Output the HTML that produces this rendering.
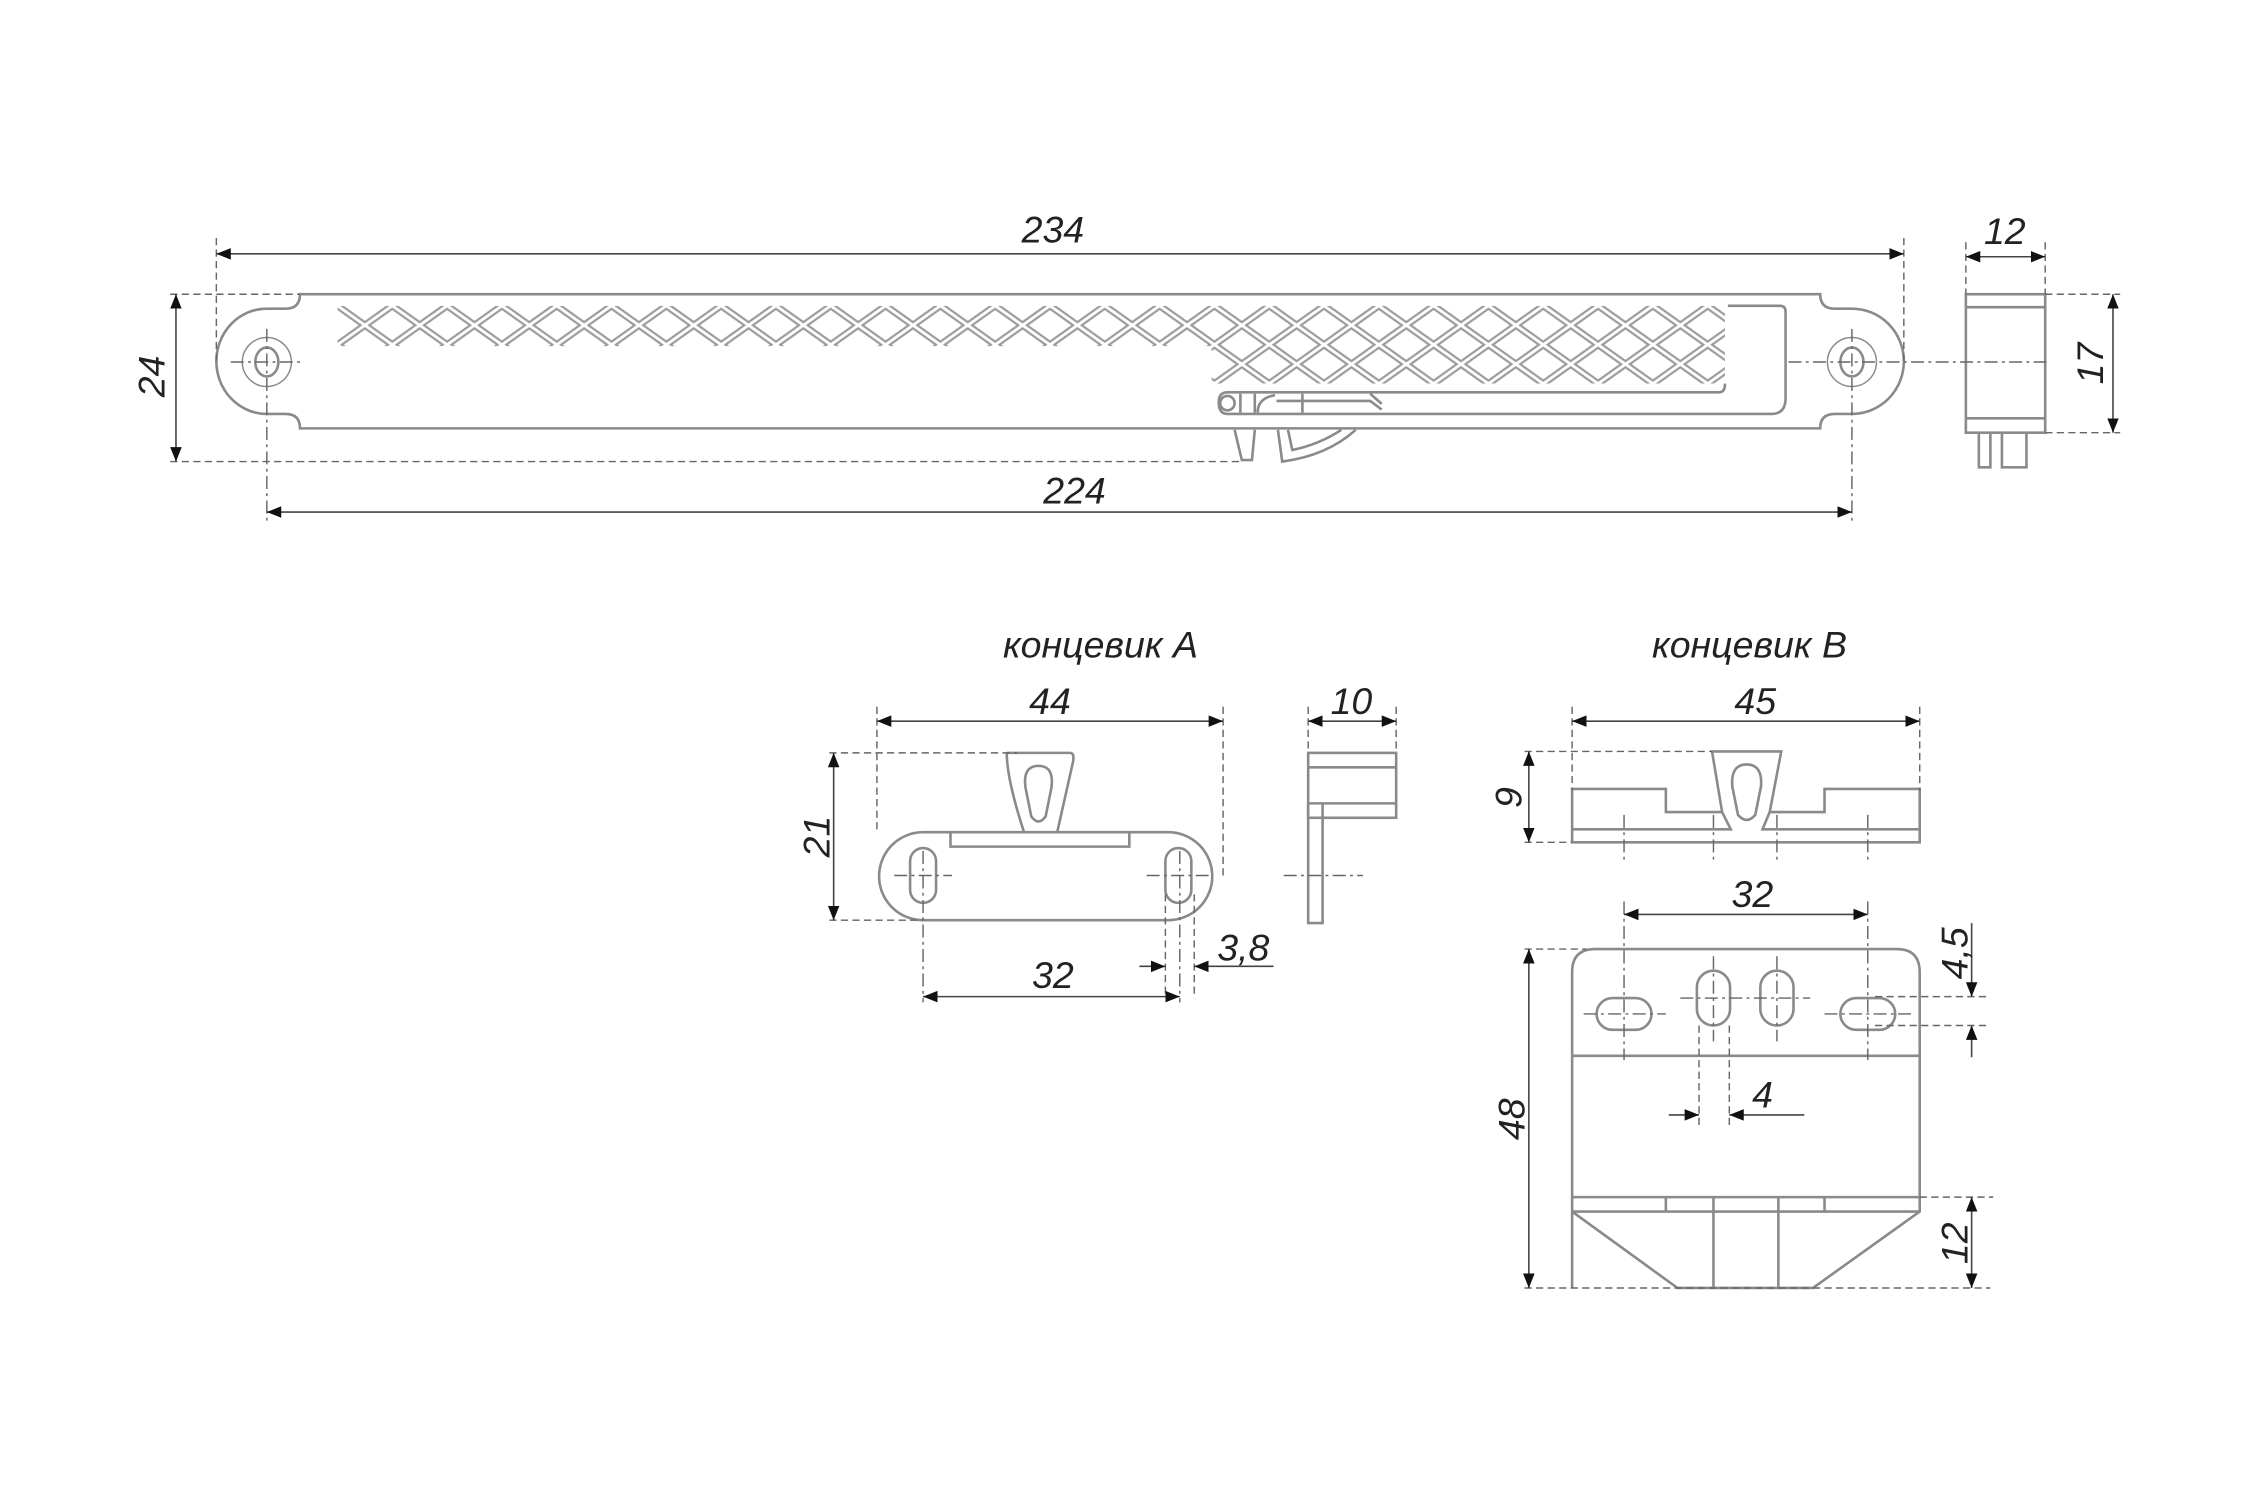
<!DOCTYPE html>
<html><head><meta charset="utf-8"><style>
html,body{margin:0;padding:0;background:#fff;}
svg{display:block;}
text{font-family:"Liberation Sans",sans-serif;font-style:italic;font-size:26px;fill:#222;}
</style></head><body>
<svg width="2250" height="1500" viewBox="0 0 1560 1040" xmlns="http://www.w3.org/2000/svg">
<defs>
<marker id="a" viewBox="0 0 10 8" refX="10" refY="4" markerWidth="10" markerHeight="8" markerUnits="userSpaceOnUse" orient="auto-start-reverse"><path d="M0,0 L10,4 L0,8 z" fill="#111"/></marker>
<pattern id="lat" x="234" y="212" width="38" height="27" patternUnits="userSpaceOnUse">
<path d="M0,0 L38,27 M38,0 L0,27" stroke="#9a9a9a" stroke-width="5"/>
<path d="M0,0 L38,27 M38,0 L0,27" stroke="#fff" stroke-width="2"/>
</pattern>
<clipPath id="lc"><path d="M234,212 H1196 V266 H840 V240 H234 Z"/></clipPath>
</defs>
<g fill="none" stroke="#8a8a8a" stroke-width="1.8">
<!-- main bar -->
<path d="M208,204 H1262 Q1262,214 1272,214 H1284 A36,36.5 0 0 1 1284,287 H1272 Q1262,287 1262,297 H208 Q208,287 198,287 H185 A35,36.5 0 0 1 185,214 H198 Q208,214 208,204 Z"/>
<circle cx="185" cy="251" r="17" stroke-width="1"/><ellipse cx="185" cy="251" rx="8" ry="10"/>
<circle cx="1284" cy="251" r="17" stroke-width="1"/><ellipse cx="1284" cy="251" rx="8" ry="10"/>
<rect x="234" y="212" width="962" height="54" fill="url(#lat)" stroke="none" clip-path="url(#lc)"/>
<path d="M1198,212 H1234 Q1238,212 1238,216 V276 Q1238,287 1228,287 H851 Q845,287 845,279 Q845,272 851,272 H1192 Q1196,272 1196,266"/>
<circle cx="851" cy="279.5" r="5"/>
<path d="M860,273 V286 M870,273 V286 M872,286 Q872,276 884,274 M903,273 V286 M885,278 H950 L958,284 M950,273 L958,280"/>
<path d="M856,298 L861,319 L868,319 L870,298"/>
<path d="M886,298 L889,320 Q920,316 940,298 M893,298 L896,312 Q915,308 930,298"/>
<!-- side view -->
<rect x="1363" y="204" width="55" height="96"/>
<path d="M1363,213 H1418 M1363,290 H1418"/>
<path d="M1372,300 V324 H1380 V300 M1388,300 V324 H1405 V300"/>
<!-- концевик A -->
<path d="M640,577 H810 A30.5,30.5 0 0 1 810,638 H640 A30.5,30.5 0 0 1 640,577 Z"/>
<path d="M659,577 V587 H783 V577"/>
<path d="M698,522 H742 Q745,522 744,528 L733,577 M698,522 Q698,540 710,577"/>
<path d="M720,531 Q731,531 729,546 L725,566 Q720,573 715,566 L711,546 Q709,531 720,531 Z"/>
<rect x="631" y="588" width="18" height="38" rx="9"/>
<rect x="808" y="588" width="18" height="38" rx="9"/>
<rect x="907" y="522" width="61" height="45"/>
<path d="M907,532 H968 M907,557 H968 M907,557 V640 H917 V557"/>
<!-- концевик B profile -->
<path d="M1090,584 V547 H1155 V563 H1194 L1187,521 H1235 L1227,563 H1265 V547 H1331 V584 Z"/>
<path d="M1090,575 H1200 L1194,563 M1331,575 H1222 L1227,563"/>
<path d="M1211,530 Q1222,530 1221,545 L1217,565 Q1211,572 1205,565 L1201,545 Q1200,530 1211,530 Z"/>
<!-- plate B -->
<path d="M1090,893 V674 Q1090,658 1106,658 H1315 Q1331,658 1331,674 V840 L1257,893 H1163 L1090,840"/>
<path d="M1090,732 H1331 M1090,830 H1331 M1090,840 H1331 M1155,830 V840 M1265,830 V840 M1188,830 V893 M1233,830 V893"/>
<rect x="1107" y="692" width="38" height="22" rx="11"/>
<rect x="1276" y="692" width="38" height="22" rx="11"/>
<rect x="1176.5" y="673" width="23" height="38" rx="11.5"/>
<rect x="1220.5" y="673" width="23" height="38" rx="11.5"/>
</g>
<!-- center / extension lines -->
<g fill="none" stroke="#666" stroke-width="1" stroke-dasharray="5,3">
<path d="M150,165 V250 M1320,165 V250 M118,204 H208 M118,320 H860 M1363,168 V204 M1418,168 V204 M1418,204 H1470 M1418,300 H1470"/>
<path d="M608,490 V577 M848,490 V610 M575,522 H705 M575,638 H640 M907,490 V522 M968,490 V522"/>
<path d="M808,620 V690 M828,620 V690 M1090,490 V548 M1331,490 V548 M1057,521 H1187 M1057,584 H1090"/>
<path d="M1057,658 H1100 M1057,893 H1380 M1331,830 H1382 M1300,691 H1378 M1300,711 H1378 M1178,711 V781 M1199,711 V781"/>
</g>
<g fill="none" stroke="#666" stroke-width="1" stroke-dasharray="9,3,2,3">
<path d="M185,228 V362 M160,251 H210 M1284,228 V362 M1240,251 H1420"/>
<path d="M640,590 V695 M818,590 V695 M620,607 H660 M795,607 H840 M890,607 H945"/>
<path d="M1126,565 V596 M1188,565 V596 M1232,565 V596 M1295,565 V596"/>
<path d="M1126,625 V735 M1295,625 V735 M1098,703 H1155 M1265,703 H1325 M1188,663 V722 M1232,663 V722 M1165,692 H1255"/>
</g>
<!-- dimension lines -->
<g fill="none" stroke="#444" stroke-width="1.1">
<path d="M150,176 H1320" marker-start="url(#a)" marker-end="url(#a)"/>
<path d="M122,204 V320" marker-start="url(#a)" marker-end="url(#a)"/>
<path d="M185,355 H1284" marker-start="url(#a)" marker-end="url(#a)"/>
<path d="M1363,178 H1418" marker-start="url(#a)" marker-end="url(#a)"/>
<path d="M1465,204 V300" marker-start="url(#a)" marker-end="url(#a)"/>
<path d="M608,500 H848" marker-start="url(#a)" marker-end="url(#a)"/>
<path d="M578,522 V638" marker-start="url(#a)" marker-end="url(#a)"/>
<path d="M640,691 H818" marker-start="url(#a)" marker-end="url(#a)"/>
<path d="M790,670 H808" marker-end="url(#a)"/>
<path d="M883,670 H828" marker-end="url(#a)"/>
<path d="M907,500 H968" marker-start="url(#a)" marker-end="url(#a)"/>
<path d="M1090,500 H1331" marker-start="url(#a)" marker-end="url(#a)"/>
<path d="M1060,521 V584" marker-start="url(#a)" marker-end="url(#a)"/>
<path d="M1126,634 H1295" marker-start="url(#a)" marker-end="url(#a)"/>
<path d="M1060,658 V893" marker-start="url(#a)" marker-end="url(#a)"/>
<path d="M1367,640 V691" marker-end="url(#a)"/>
<path d="M1367,733 V711" marker-end="url(#a)"/>
<path d="M1157,773 H1178" marker-end="url(#a)"/>
<path d="M1251,773 H1199" marker-end="url(#a)"/>
<path d="M1367,830 V893" marker-start="url(#a)" marker-end="url(#a)"/>
</g>
<g text-anchor="middle">
<text x="730" y="168">234</text>
<text x="745" y="349">224</text>
<text x="1390" y="169">12</text>
<text transform="translate(114,261) rotate(-90)">24</text>
<text transform="translate(1458,252) rotate(-90)">17</text>
<text x="763" y="456">концевик A</text>
<text x="1213" y="456">концевик B</text>
<text x="728" y="495">44</text>
<text x="937" y="495">10</text>
<text x="1217" y="495">45</text>
<text transform="translate(575,580) rotate(-90)">21</text>
<text x="730" y="685">32</text>
<text x="862" y="666">3,8</text>
<text transform="translate(1055,553) rotate(-90)">9</text>
<text x="1215" y="629">32</text>
<text transform="translate(1364,661) rotate(-90)">4,5</text>
<text x="1222" y="768">4</text>
<text transform="translate(1057,776) rotate(-90)">48</text>
<text transform="translate(1364,862) rotate(-90)">12</text>
</g>
</svg>
</body></html>
